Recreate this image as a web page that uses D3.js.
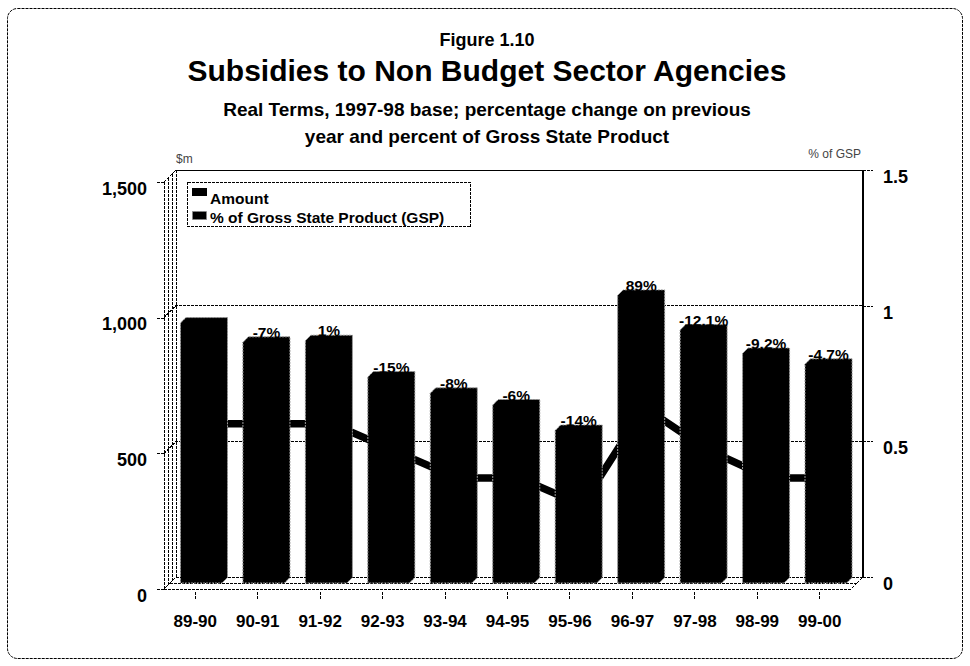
<!DOCTYPE html>
<html>
<head>
<meta charset="utf-8">
<script src="https://cdn.jsdelivr.net/npm/d3@7/dist/d3.min.js"></script>
<style>
  html, body { margin: 0; padding: 0; background: #fff; }
  svg { display: block; font-family: "Liberation Sans", Arial, Helvetica, sans-serif; }
  .dash { fill: none; stroke: #000; stroke-width: 1; stroke-dasharray: 3,1; shape-rendering: crispEdges; }
  .tick line { shape-rendering: crispEdges; }
</style>
</head>
<body>
<svg id="chart" width="970" height="666"></svg>
<script>
// Financial years
const years = ["89-90", "90-91", "91-92", "92-93", "93-94", "94-95", "95-96", "96-97", "97-98", "98-99", "99-00"];
// Subsidies, $m in 1997-98 dollars
const amount = [958, 887, 893, 759, 699, 656, 562, 1060, 932, 846, 806];
// Change on previous year, printed above each bar
const changeLabels = ["", "-7%", "1%", "-15%", "-8%", "-6%", "-14%", "89%", "-12.1%", "-9.2%", "-4.7%"];
// Subsidies as a percent of Gross State Product
const gspShare = [0.565, 0.565, 0.565, 0.465, 0.365, 0.365, 0.265, 0.625, 0.47, 0.365, 0.365];
// Axis ticks
const amountTicks = [0, 500, 1000, 1500];
const gspTicks = [0, 0.5, 1, 1.5];

const svg = d3.select("#chart");
const FONT = "'Liberation Sans', Arial, Helvetica, sans-serif";

// depth of the pseudo-3D box: back wall sits DEPTH px right and up of the front plane
const DEPTH = 12;
const BAR_PLANE = 6;   // bars stand half way into the box
const BAR_D = 5.5;     // depth of each bar

const x = d3.scaleBand().domain(years).range([164, 851]).paddingInner(0.335).paddingOuter(0.1675);
const yFront = d3.scaleLinear().domain([0, 1500]).range([589, 182]);
const yBar = d3.scaleLinear().domain([0, 1500]).range([589 - BAR_PLANE, 182 - BAR_PLANE]);
const yGsp = d3.scaleLinear().domain([0, 1.5]).range([589 - DEPTH, 182 - DEPTH]);

// outer frame
svg.append("rect").attr("class", "dash")
  .attr("x", 7.5).attr("y", 8.5).attr("width", 955).attr("height", 650)
  .attr("rx", 10).attr("ry", 10).style("shape-rendering", "auto");

// titles
svg.append("text").attr("x", 487).attr("y", 46).attr("text-anchor", "middle")
  .attr("font-size", 18).attr("font-weight", "bold").text("Figure 1.10");
svg.append("text").attr("x", 487).attr("y", 81).attr("text-anchor", "middle")
  .attr("font-size", 30).attr("font-weight", "bold").text("Subsidies to Non Budget Sector Agencies");
svg.append("text").attr("x", 487).attr("y", 116).attr("text-anchor", "middle")
  .attr("font-size", 19).attr("font-weight", "bold")
  .text("Real Terms, 1997-98 base; percentage change on previous");
svg.append("text").attr("x", 487).attr("y", 143).attr("text-anchor", "middle")
  .attr("font-size", 19).attr("font-weight", "bold")
  .text("year and percent of Gross State Product");

// unit captions
svg.append("text").attr("x", 176).attr("y", 163).attr("font-size", 12).attr("fill", "#444").text("$m");
svg.append("text").attr("x", 861).attr("y", 158).attr("text-anchor", "end")
  .attr("font-size", 12).attr("fill", "#444").text("% of GSP");

const x0 = x.range()[0], x1 = x.range()[1];

// left side wall
const wall = svg.append("g");
[0, 4, 8, DEPTH].forEach(k => {
  wall.append("line").attr("class", "dash")
    .attr("x1", x0 + k).attr("x2", x0 + k)
    .attr("y1", yFront(0) - k).attr("y2", yFront(1500) - k);
});
wall.append("line").attr("class", "dash")
  .attr("x1", x0).attr("y1", yFront(1500)).attr("x2", x0 + DEPTH).attr("y2", yFront(1500) - DEPTH);

// back wall gridlines (with the diagonal on the side wall)
amountTicks.filter(d => d > 0).forEach(v => {
  svg.append("path").attr("class", "dash")
    .attr("d", `M${x0},${yFront(v)}L${x0 + DEPTH},${yFront(v) - DEPTH}L${x1 + DEPTH},${yFront(v) - DEPTH}`);
});

// floor
svg.append("path").attr("class", "dash")
  .attr("d", `M${x0},${yFront(0)}L${x1},${yFront(0)}L${x1 + DEPTH},${yFront(0) - DEPTH}L${x0 + DEPTH},${yFront(0) - DEPTH}Z`);
svg.append("line").attr("class", "dash")
  .attr("x1", x0 + BAR_PLANE).attr("x2", x1 + BAR_PLANE)
  .attr("y1", yFront(0) - BAR_PLANE).attr("y2", yFront(0) - BAR_PLANE);

// GSP share line on the back wall
const gspLine = d3.line()
  .x((d, i) => x(years[i]) + x.bandwidth() / 2 + DEPTH)
  .y(d => yGsp(d));
svg.append("path").datum(gspShare)
  .attr("d", gspLine)
  .attr("fill", "none").attr("stroke", "#000").attr("stroke-width", 7.5)
  .attr("stroke-linejoin", "miter");

// bars
const bars = svg.append("g");
amount.forEach((v, i) => {
  const bx0 = x(years[i]) + BAR_PLANE;
  const bx1 = bx0 + x.bandwidth();
  const yb = yBar(0), yt = yBar(v), d = BAR_D;
  const pts = [[bx0, yb], [bx0, yt], [bx0 + d, yt - d], [bx1 + d, yt - d], [bx1 + d, yb - d], [bx1, yb]];
  bars.append("path")
    .attr("d", "M" + pts.map(p => p.join(",")).join("L") + "Z")
    .attr("fill", "#000").attr("stroke", "#999").attr("stroke-width", 1)
    .attr("stroke-dasharray", "2,1");
  if (changeLabels[i]) {
    bars.append("text")
      .attr("x", (bx0 + bx1) / 2 + d / 2).attr("y", yt - d + 1)
      .attr("text-anchor", "middle").attr("font-size", 15.5).attr("font-weight", "bold")
      .text(changeLabels[i]);
  }
});

// left axis ($m)
const leftAxis = svg.append("g").attr("transform", `translate(${x0},0)`)
  .call(d3.axisLeft(yFront).tickValues(amountTicks).tickSize(8).tickPadding(9).tickFormat(d3.format(",")));
leftAxis.select(".domain").remove();
leftAxis.selectAll("line").attr("stroke-dasharray", "3,1");
leftAxis.selectAll("text").attr("dy", "0.68em").attr("font-size", 18).attr("font-weight", "bold")
  .attr("font-family", FONT);

// right axis (% of GSP) on the back plane
const rightAxis = svg.append("g").attr("transform", `translate(${x1 + DEPTH},0)`)
  .call(d3.axisRight(yGsp).tickValues(gspTicks).tickSize(10).tickPadding(10).tickFormat(d3.format("~g")));
rightAxis.select(".domain").attr("d", `M0,${yGsp(0)}V${yGsp(1.5)}`).attr("stroke-width", 2)
  .style("shape-rendering", "crispEdges");
rightAxis.selectAll("line").attr("stroke-dasharray", "3,1");
rightAxis.selectAll("text").attr("dy", "0.7em").attr("font-size", 18).attr("font-weight", "bold")
  .attr("font-family", FONT);
// top edge of back wall
svg.append("line").attr("class", "dash")
  .attr("x1", x0 + DEPTH).attr("x2", x1 + DEPTH).attr("y1", yGsp(1.5)).attr("y2", yGsp(1.5));

// bottom axis
const bottomAxis = svg.append("g").attr("transform", `translate(0,${yFront(0) + 3})`)
  .call(d3.axisBottom(x).tickSize(8).tickPadding(15));
bottomAxis.select(".domain").remove();
bottomAxis.selectAll("line").attr("stroke-dasharray", "3,1");
bottomAxis.selectAll("text").attr("font-size", 17).attr("font-weight", "bold").attr("font-family", FONT);

// legend
const legend = svg.append("g");
legend.append("rect").attr("class", "dash")
  .attr("x", 187.5).attr("y", 182.5).attr("width", 283).attr("height", 44)
  .style("fill", "#fff");
legend.append("rect").attr("x", 192).attr("y", 188).attr("width", 15).attr("height", 8).attr("fill", "#000");
legend.append("text").attr("x", 210).attr("y", 204).attr("font-size", 15.5).attr("font-weight", "bold").text("Amount");
legend.append("rect").attr("x", 192.5).attr("y", 211.5).attr("width", 14).attr("height", 8)
  .attr("fill", "#000").attr("stroke", "#888").attr("stroke-dasharray", "2,1");
legend.append("text").attr("x", 210).attr("y", 223).attr("font-size", 15.5).attr("font-weight", "bold")
  .text("% of Gross State Product (GSP)");
</script>
</body>
</html>
